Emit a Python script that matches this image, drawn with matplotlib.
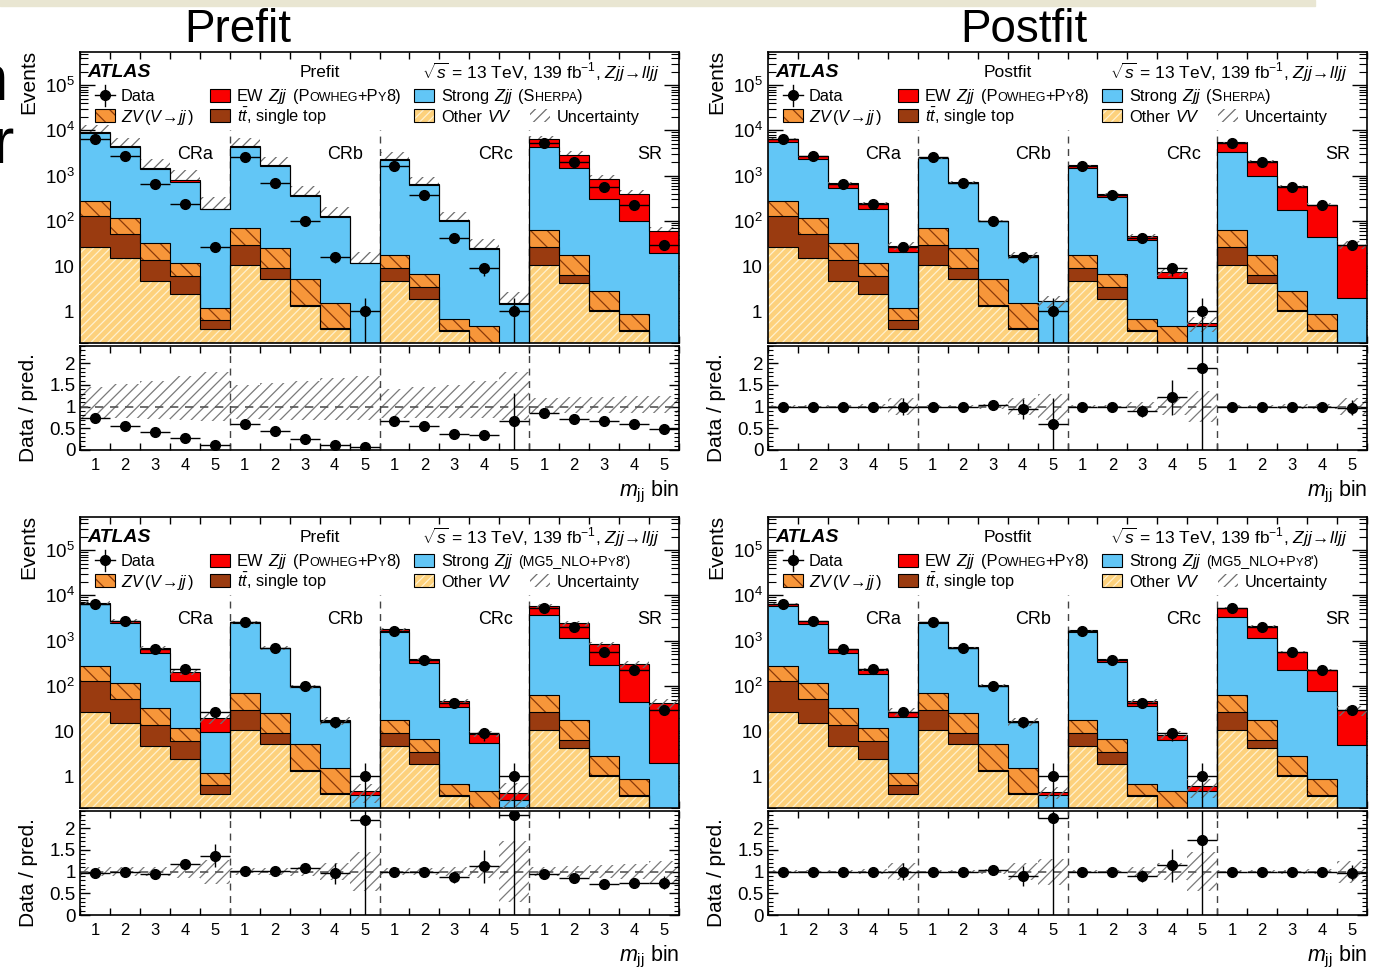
import numpy as np
import matplotlib
matplotlib.use('Agg')
import matplotlib.pyplot as plt
from matplotlib.patches import Rectangle
from matplotlib.lines import Line2D
from matplotlib.ticker import LogLocator, NullFormatter, MultipleLocator

plt.rcParams['font.family'] = ['Liberation Sans', 'DejaVu Sans']
plt.rcParams['mathtext.fontset'] = 'custom'
plt.rcParams['mathtext.rm'] = 'Liberation Sans'
plt.rcParams['mathtext.it'] = 'Liberation Sans:italic'
plt.rcParams['mathtext.bf'] = 'Liberation Sans:bold'
plt.rcParams['hatch.linewidth'] = 0.9

regions = ['CRa', 'CRb', 'CRc', 'SR']
bin_labels = ['1', '2', '3', '4', '5']

# 20 bins = 4 regions x 5 mjj bins (CRa, CRb, CRc, SR)
data_obs = [6500, 2750, 640, 232, 27, 2550, 700, 100, 16, 1,
            1620, 380, 41, 9, 1, 5300, 2050, 570, 225, 29]

# backgrounds (same in all four panels)
other_vv = [27, 15.5, 4.7, 2.4, 0.41, 10.7, 5.2, 1.29, 0.41, 0.05,
            4.7, 1.9, 0.36, 0.12, 0.02, 10.7, 4.2, 1.0, 0.36, 0.05]
ttbar = [98, 36.5, 9.1, 3.7, 0.25, 18.8, 3.8, 0.06, 0.02, 0.01,
         4.3, 1.5, 0.02, 0.01, 0.01, 15.3, 2.2, 0.05, 0.02, 0.01]
zv = [155, 66, 18, 5.9, 0.52, 41.5, 16.8, 3.85, 1.07, 0.02,
      8.8, 3.2, 0.3, 0.34, 0.02, 37, 11.1, 1.81, 0.49, 0.02]

# Strong Zjj (Sherpa)
strong_sh_pre = [8300, 4280, 1370, 728, 179, 4330, 1634, 355, 122, 11.5,
                 2180, 613, 99, 23.2, 1.4, 4340, 1432, 302, 99, 19.3]
ew_sh_pre = [400, 150, 50, 50, 5, 50, 20, 5, 2, 0.2,
             150, 20, 7, 1.3, 0.05, 1900, 1410, 525, 288, 40.6]
strong_sh_post = [5320, 2180, 493, 168, 19.8, 2330, 674, 92, 15.3, 1.58,
                  1430, 323, 36.3, 5.1, 0.42, 3240, 972, 172, 43, 1.92]
ew_sh_post = [1000, 400, 155, 65, 7, 50, 15, 3, 0.5, 0.04,
              250, 60, 9, 2, 0.08, 2100, 1110, 415, 186, 28]

# Strong Zjj (MG5_NLO+Py8')
strong_mg_pre = [6020, 2282, 508, 113, 8.6, 2430, 654, 88, 15.5, 0.31,
                 1562, 308, 34.3, 5.1, 0.25, 3637, 1102, 287, 44, 1.92]
ew_mg_pre = [600, 350, 140, 82, 10.2, 50, 10, 2, 0.3, 0.08,
             220, 70, 12, 3.1, 0.13, 2100, 1280, 540, 260, 39]
strong_mg_post = [5520, 2182, 493, 172, 19.8, 2430, 674, 95, 14.8, 0.31,
                  1562, 323, 35.3, 5.9, 0.43, 3337, 1102, 222, 76, 4.92]
ew_mg_post = [800, 400, 115, 46, 6, 40, 10, 2, 0.3, 0.06,
              120, 55, 10, 1.9, 0.12, 1900, 980, 345, 148, 24]

# Data / pred.
ratio_sh_pre = [0.74, 0.55, 0.41, 0.27, 0.12, 0.59, 0.43, 0.25, 0.12, 0.08,
                0.66, 0.55, 0.36, 0.35, 0.66, 0.85, 0.72, 0.68, 0.59, 0.49]
ratio_sh_post = [1, 1, 1, 1, 1, 1, 1, 1.03, 0.95, 0.6,
                 1, 1, 0.9, 1.22, 1.9, 1, 1, 1, 1, 0.98]
ratio_mg_pre = [0.96, 1.0, 0.95, 1.18, 1.37, 1.01, 1.02, 1.09, 0.96, 2.2,
                1.0, 0.99, 0.87, 1.12, 2.3, 0.95, 0.86, 0.72, 0.75, 0.75]
ratio_mg_post = [1, 1, 1, 1, 1, 1, 1, 1.04, 0.9, 2.25,
                 1, 1, 0.9, 1.15, 1.72, 1, 1, 1, 1, 0.98]

# relative uncertainty (down / up)
unc_dn_sh_pre = [0.25, 0.27, 0.28, 0.30, 0.32, 0.28, 0.3, 0.3, 0.3, 0.3,
                 0.25, 0.25, 0.25, 0.25, 0.3, 0.15, 0.15, 0.15, 0.15, 0.15]
unc_up_sh_pre = [0.45, 0.52, 0.6, 0.7, 0.8, 0.5, 0.55, 0.6, 0.65, 0.7,
                 0.4, 0.45, 0.5, 0.6, 0.8, 0.2, 0.22, 0.22, 0.25, 0.25]
unc_sh_post = [0.03, 0.03, 0.04, 0.06, 0.2, 0.03, 0.04, 0.06, 0.2, 0.3,
               0.03, 0.04, 0.1, 0.2, 0.35, 0.03, 0.04, 0.05, 0.06, 0.2]
unc_mg_pre = [0.1, 0.1, 0.1, 0.15, 0.28, 0.08, 0.08, 0.1, 0.2, 0.45,
              0.08, 0.08, 0.1, 0.15, 0.7, 0.1, 0.12, 0.15, 0.18, 0.25]
unc_mg_post = [0.03, 0.03, 0.04, 0.06, 0.2, 0.03, 0.04, 0.06, 0.2, 0.3,
               0.03, 0.04, 0.1, 0.2, 0.45, 0.03, 0.04, 0.05, 0.06, 0.25]

c_other, h_other = '#fdd17c', '#fff1cf'
c_zv, h_zv = '#f7963a', '#8a3a0a'
c_tt = '#9a3b10'
c_strong = '#62c6f6'
c_ew = '#fa0000'
c_unc = '#6e6e6e'

W, H = 1385, 967
fig = plt.figure(figsize=(W / 100, H / 100), dpi=100)
renderer = fig.canvas.get_renderer()

F = 11.8    # legend font size
S = 9.0     # small caps size


def rich(ax, x, y, pieces):
    # draw a sequence of text pieces with different sizes on one baseline
    for s, size in pieces:
        if s == ' ':
            x += size * 0.28 * fig.dpi / 72 / ax.bbox.width
            continue
        t = ax.text(x, y, s, transform=ax.transAxes, fontsize=size,
                    va='baseline', ha='left')
        x += t.get_window_extent(renderer).width / ax.bbox.width


def legend_box(ax, x, y, fc, hatch=None, hc=None, border=True):
    w, h = 0.0334, 0.046
    ax.add_patch(Rectangle((x, y - h / 2), w, h, transform=ax.transAxes,
                           facecolor=fc, edgecolor=hc if hatch else fc,
                           hatch=hatch, lw=0, fill=fc != 'none', clip_on=False))
    if border:
        ax.add_patch(Rectangle((x, y - h / 2), w, h, transform=ax.transAxes,
                               fill=False, edgecolor='k', lw=0.8, clip_on=False))


sherpa_pieces = [('Strong', F), (' ', F), ('$Zjj$', F), (' ', F),
                 ('(S', F), ('HERPA', S), (')', F)]
mg5_pieces = [('Strong', F), (' ', F), ('$Zjj$', F), (' ', F),
              ('(MG5_NLO+P', 10.2), ('Y', 8.0), ("8')", 10.2)]

panels = [
    (80, 52, 'Prefit', sherpa_pieces, strong_sh_pre, ew_sh_pre, ratio_sh_pre,
     unc_dn_sh_pre, unc_up_sh_pre, False),
    (768, 52, 'Postfit', sherpa_pieces, strong_sh_post, ew_sh_post, ratio_sh_post,
     unc_sh_post, unc_sh_post, True),
    (80, 517, 'Prefit', mg5_pieces, strong_mg_pre, ew_mg_pre, ratio_mg_pre,
     unc_mg_pre, unc_mg_pre, True),
    (768, 517, 'Postfit', mg5_pieces, strong_mg_post, ew_mg_post, ratio_mg_post,
     unc_mg_post, unc_mg_post, True),
]

x = np.arange(20)
edges = np.arange(21)
data = np.array(data_obs, float)

for (px, py, stage, strong_pieces, strong, ew, ratio, udn, uup, band_on_top) in panels:
    pw, ph, rh = 599, 291, 104
    ax = fig.add_axes([px / W, 1 - (py + ph) / H, pw / W, ph / H])
    axr = fig.add_axes([px / W, 1 - (py + ph + 3 + rh) / H, pw / W, rh / H])

    # stacked histogram
    layers = [(other_vv, c_other, '////', h_other), (ttbar, c_tt, None, None),
              (zv, c_zv, '\\\\', h_zv), (strong, c_strong, None, None),
              (ew, c_ew, None, None)]
    bottom = np.zeros(20)
    for vals, fc, hatch, hc in layers:
        vals = np.asarray(vals, float)
        ax.bar(x, vals, width=1, bottom=bottom, align='edge', color=fc,
               edgecolor=hc if hatch else fc, hatch=hatch, linewidth=0, zorder=2)
        bottom = bottom + vals
        ax.stairs(bottom, edges, baseline=None, color='k', lw=0.8, zorder=3)
    total = bottom
    dn = np.asarray(udn)
    up = np.asarray(uup)
    ax.bar(x, total * (up + dn), bottom=total * (1 - dn), width=1, align='edge',
           fill=False, hatch='///', edgecolor=c_unc, linewidth=0,
           zorder=4 if band_on_top else 1)

    ax.errorbar(x + 0.5, data, xerr=0.5, yerr=np.sqrt(data), fmt='o', color='k',
                ms=7, elinewidth=1, capsize=0, zorder=6)
    ax.vlines([5, 10, 15], 0.2, 1e4, colors='#444444', linestyles=(0, (5, 4)),
              lw=1, zorder=1.5)
    for i, name in enumerate(regions):
        ax.text(5 * (i + 1) - 0.55, 3000, name, ha='right', va='center', fontsize=13)

    ax.set_yscale('log')
    ax.set_xlim(0, 20)
    ax.set_ylim(0.2, 5.4e5)
    ax.set_yticks([1, 10, 1e2, 1e3, 1e4, 1e5])
    ax.set_yticklabels(['1', '10', '$10^2$', '$10^3$', '$10^4$', '$10^5$'])
    ax.yaxis.set_minor_locator(LogLocator(base=10, subs=np.arange(2, 10), numticks=20))
    ax.yaxis.set_minor_formatter(NullFormatter())
    ax.set_xticks(edges)
    ax.set_xticklabels([])
    ax.tick_params(axis='both', which='both', direction='in', top=True, right=True)
    ax.tick_params(axis='y', which='major', length=11, width=1, labelsize=13.5, pad=4)
    ax.tick_params(axis='y', which='minor', length=6, width=0.8)
    ax.tick_params(axis='x', which='major', length=5, width=1)
    for sp in ax.spines.values():
        sp.set_linewidth(1.2)

    # header and legend
    ax.text(0.013, 0.928, 'ATLAS', transform=ax.transAxes, fontsize=14,
            fontweight='bold', fontstyle='italic', va='center', ha='left')
    ax.text(0.40, 0.928, stage, transform=ax.transAxes, fontsize=12.5,
            va='center', ha='center')
    ax.text(0.967, 0.928, r'$\sqrt{s}$ = 13 TeV, 139 fb$^{-1}$, $Zjj\!\rightarrow\!lljj$',
            transform=ax.transAxes, fontsize=12.5, va='center', ha='right')

    r1, r2 = 0.851, 0.781
    off = 0.020
    ax.add_line(Line2D([0.025, 0.058], [r1, r1], color='k', lw=1,
                       transform=ax.transAxes))
    ax.add_line(Line2D([0.0417, 0.0417], [r1 - 0.035, r1 + 0.035], color='k', lw=1,
                       transform=ax.transAxes))
    ax.add_line(Line2D([0.0417], [r1], marker='o', ms=7, color='k',
                       transform=ax.transAxes))
    rich(ax, 0.0684, r1 - off, [('Data', F)])
    legend_box(ax, 0.217, r1, c_ew)
    rich(ax, 0.262, r1 - off, [('EW', F), (' ', F), ('$Zjj$', F), (' ', F), ('(P', F),
                               ('OWHEG', S), ('+P', F), ('Y', S), ('8)', F)])
    legend_box(ax, 0.558, r1, c_strong)
    rich(ax, 0.603, r1 - off, strong_pieces)

    legend_box(ax, 0.025, r2, c_zv, '\\\\', h_zv)
    rich(ax, 0.0684, r2 - off, [(r'$ZV\,(V\!\rightarrow\!jj\,)$', F)])
    legend_box(ax, 0.217, r2, c_tt)
    rich(ax, 0.262, r2 - off, [(r'$t\bar{t}$, single top', F)])
    legend_box(ax, 0.558, r2, c_other, '////', h_other)
    rich(ax, 0.603, r2 - off, [('Other', F), (' ', F), ('$VV$', F)])
    legend_box(ax, 0.751, r2, 'none', '///', c_unc, border=False)
    rich(ax, 0.796, r2 - off, [('Uncertainty', F)])

    # ratio panel
    axr.bar(x, up + dn, bottom=1 - dn, width=1, align='edge', fill=False,
            hatch='///', edgecolor='#7a7a7a', linewidth=0, zorder=1)
    axr.axhline(1, color='#555555', lw=1.2, ls=(0, (5, 4)), zorder=2)
    axr.vlines([5, 10, 15], 0, 2.4, colors='#444444', linestyles=(0, (5, 4)),
               lw=1, zorder=2)
    rat = np.asarray(ratio, float)
    axr.errorbar(x + 0.5, rat, xerr=0.5, yerr=rat / np.sqrt(data), fmt='o',
                 color='k', ms=7, elinewidth=1, capsize=0, zorder=5)
    axr.set_xlim(0, 20)
    axr.set_ylim(0, 2.4)
    axr.set_yticks([0, 0.5, 1, 1.5, 2])
    axr.set_yticklabels(['0', '0.5', '1', '1.5', '2'])
    axr.yaxis.set_minor_locator(MultipleLocator(0.1))
    axr.set_xticks(edges)
    axr.set_xticklabels([])
    axr.set_xticks(x + 0.5, minor=True)
    axr.set_xticklabels(bin_labels * 4, minor=True)
    axr.tick_params(axis='both', which='both', direction='in', top=True, right=True)
    axr.tick_params(axis='y', which='major', length=7, width=1, labelsize=13.5, pad=3)
    axr.tick_params(axis='y', which='minor', length=3.5, width=0.8)
    axr.tick_params(axis='x', which='major', length=5, width=1)
    axr.tick_params(axis='x', which='minor', length=0, labelsize=12, pad=6)
    for sp in axr.spines.values():
        sp.set_linewidth(1.2)

    # axis labels
    lx = (px - 51) / W
    fig.text(lx, 1 - (py - 2) / H, 'Events', rotation=90, ha='center', va='top',
             fontsize=15)
    fig.text(lx, 1 - (py + ph + 3 + rh / 2 + 10) / H, 'Data / pred.', rotation=90,
             ha='center', va='center', fontsize=15)
    fig.text((px + pw) / W, 1 - (py + ph + 3 + rh + 46) / H, r'$m_{\rm jj}$ bin',
             ha='right', va='baseline', fontsize=15.5)

# slide decorations
fig.add_artist(Rectangle((0, 1 - 6 / H), 1315 / W, 6 / H, transform=fig.transFigure,
                         color='#e9e6d2', zorder=0))
fig.text(8 / W, 1 - 100 / H, 'n', ha='right', va='baseline', fontsize=46)
fig.text(14 / W, 1 - 163 / H, 'r', ha='right', va='baseline', fontsize=46)

fig.text(238 / W, 1 - 42 / H, 'Prefit', ha='center', va='baseline', fontsize=33)
fig.text(1024 / W, 1 - 42 / H, 'Postfit', ha='center', va='baseline', fontsize=33)

fig.savefig('out.png', dpi=100)
